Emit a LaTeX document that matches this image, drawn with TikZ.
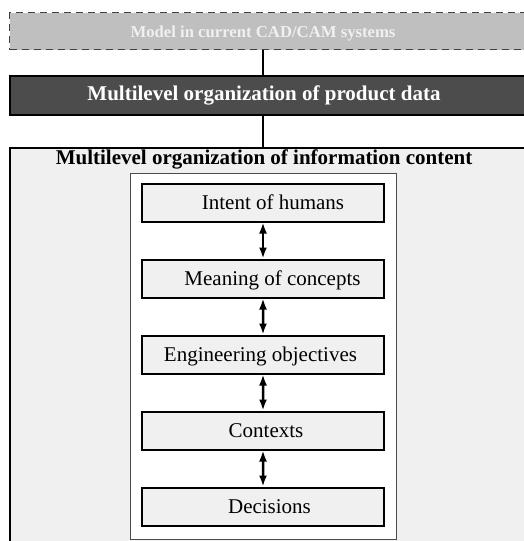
\documentclass[tikz,border=0pt]{standalone}
\usepackage{fontspec}
\setmainfont{Liberation Serif}
\usetikzlibrary{arrows.meta}
\begin{document}
\begin{tikzpicture}[
		x=1pt, y=1pt,
		level distance=76pt,
		every node/.style={inner sep=0pt},
		band/.style={rectangle, anchor=north west, minimum width=600pt},
		systembox/.style={band, draw=black!75, fill=black!25, dash pattern=on 7pt off 5pt, line width=1pt},
		databox/.style={band, draw=black, fill=black!70, line width=2pt},
		contentbox/.style={band, draw=black, fill=black!6, line width=1.5pt},
		bigtext/.style={font=\bfseries\fontsize{21}{25}\selectfont, anchor=base},
		levelbox/.style={rectangle, draw=black, fill=black!6, line width=2pt,
			minimum width=242pt, minimum height=38pt, text height=13pt, text depth=0pt,
			font=\fontsize{21}{25}\selectfont},
		edge from parent/.style={draw=none},
		link/.style={line width=2.5pt, {Latex[length=11pt,width=8pt]}-{Latex[length=11pt,width=8pt]}}
		]
		\useasboundingbox (0,0) rectangle (524,-541);
		\clip (0,0) rectangle (524,-541);
		% upper levels
		\node[systembox, minimum height=37pt] (cadcam) at (9,-12) {};
		\node[font=\bfseries\fontsize{16.7}{20}\selectfont, text=white!94!black, anchor=base] (cadcamtext) at (263,-37) {Model in current CAD/CAM systems};
		\node[databox, minimum height=39pt] (data) at (9,-75) {};
		\node[bigtext, text=white] (datatext) at (264,-100) {Multilevel organization of product data};
		\node[contentbox, minimum height=420pt] (content) at (9,-147) {};
		\node[bigtext] (contenttext) at (264,-164) {Multilevel organization of information content};
		\draw[line width=1.5pt] (cadcam.south -| cadcamtext) -- (data.north -| cadcamtext);
		\draw[line width=1.5pt] (data.south -| cadcamtext) -- (content.north -| cadcamtext);
		% information levels
		\node[draw=black!70, fill=white, line width=1pt, minimum width=266pt, minimum height=366pt, anchor=north] (frame) at (263,-173) {};
		\node[levelbox] (intent) at (263,-202.5) {\hspace*{20pt}Intent of humans}
		child {node[levelbox] (meaning) {\hspace*{19pt}Meaning of concepts}
			child {node[levelbox] (objectives) {Engineering objectives\hspace*{5pt}}
				child {node[levelbox] (contexts) {\hspace*{6pt}Contexts}
					child {node[levelbox] (decisions) {\hspace*{13pt}Decisions}}
				}
			}
		};
		\foreach \upper/\lower in {intent/meaning, meaning/objectives, objectives/contexts, contexts/decisions}
			\draw[link] (\upper.south) -- (\lower.north);
	\end{tikzpicture}
\end{document}
